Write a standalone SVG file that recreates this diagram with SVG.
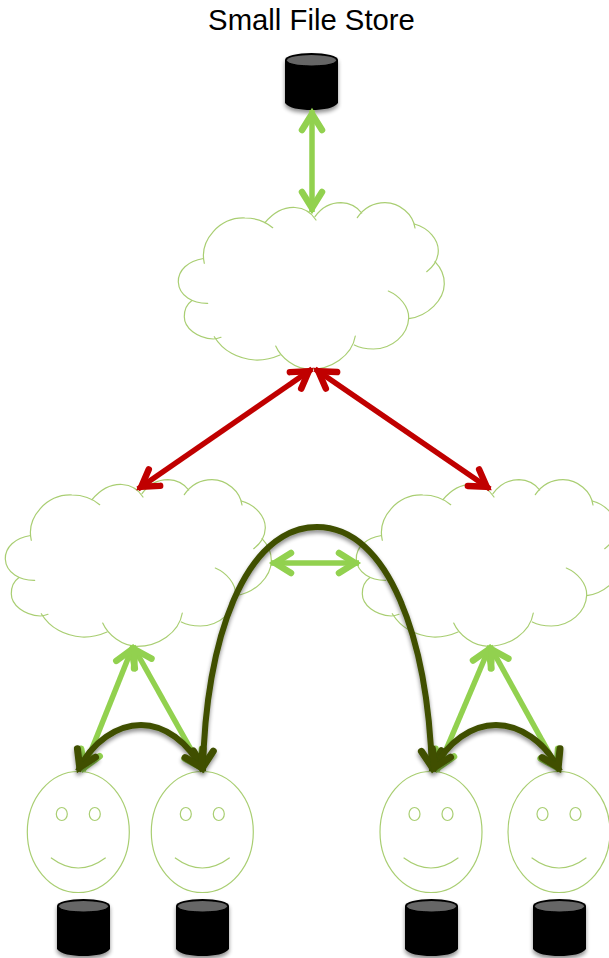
<svg xmlns="http://www.w3.org/2000/svg" width="609" height="958" viewBox="0 0 609 958">
<style>
.outline{fill:none;stroke:#A9CE72;stroke-width:1.2;stroke-linecap:round}
.fillw{fill:#fff;stroke:none}
.conn{fill:none;stroke-linecap:butt}
.lg{stroke:#92D14F;stroke-width:5.500;marker-start:url(#hl);marker-end:url(#hl)}
.rd{stroke:#C00000;stroke-width:5.500;marker-start:url(#hr);marker-end:url(#hr)}
.dg{stroke:#3F5000;stroke-width:6;marker-start:url(#hd);marker-end:url(#hd)}
text{font-family:"Liberation Sans",Arial,sans-serif;font-size:29.300px;fill:#000}
</style>
<defs>
<marker id="hl" markerUnits="userSpaceOnUse" viewBox="-30 -20 40 40" refX="0" refY="0" markerWidth="40" markerHeight="40" orient="auto-start-reverse" overflow="visible"><path d="M-20,-10L-4,0L-20,10" fill="none" stroke="#92D14F" stroke-width="6.500" stroke-linecap="round" stroke-miterlimit="6"/></marker>
<marker id="hr" markerUnits="userSpaceOnUse" viewBox="-30 -20 40 40" refX="0" refY="0" markerWidth="40" markerHeight="40" orient="auto-start-reverse" overflow="visible"><path d="M-20,-10L-4,0L-20,10" fill="none" stroke="#C00000" stroke-width="6.500" stroke-linecap="round" stroke-miterlimit="6"/></marker>
<marker id="hd" markerUnits="userSpaceOnUse" viewBox="-30 -20 40 40" refX="0" refY="0" markerWidth="40" markerHeight="40" orient="auto-start-reverse" overflow="visible"><path d="M-20,-10L-4,0L-20,10" fill="none" stroke="#3F5000" stroke-width="7" stroke-linecap="round" stroke-miterlimit="6"/></marker>
<filter id="sh" x="-20%" y="-20%" width="140%" height="140%"><feGaussianBlur in="SourceAlpha" stdDeviation="2.200"/><feOffset dx="0" dy="3"/><feComponentTransfer><feFuncA type="linear" slope=".45"/></feComponentTransfer><feMerge><feMergeNode/><feMergeNode in="SourceGraphic"/></feMerge></filter>
<g id="cloud">
<path class="fillw" d="M203,258C200,232 222,214 255,219C268,211 298,201 316,219C328,199 352,201 362,213C380,197 410,204 415,228C436,234 444,252 436,262C450,280 442,310 409,318C403,345 372,354 354,345C340,368 295,378 277,352C255,364 225,358 214,337C190,338 175,318 192,300C170,292 172,265 203,258Z"/>
<g class="outline">
<path d="M203.500,258.500C188,261 178,270 178.300,282C179,296 193,303.500 207.700,303.300"/>
<path d="M204.300,263.300C199,240 220,217 245,218C256,218 266,222 272.700,227.700"/>
<path d="M265,222.700C274,212 284,207 295,207.500C304,208 311,212 316,220"/>
<path d="M315,216.700C322,207 331,202.700 341,202.700C350,203 357,207 361.700,213"/>
<path d="M357.300,217.700C364,208 374,202.700 385,202.700C400,203 413,214 415,228"/>
<path d="M414.300,224C429,228 438.500,240 438.300,251C438,260 433,267 426.700,271.700"/>
<path d="M435,261.700C441,268 444.500,275 444.300,284C444,300 428,316 408.700,318.700"/>
<path d="M388.300,291C400,296 409,307 408.700,318C408,335 392,349 373.300,349C366,349 360,348 354.300,345"/>
<path d="M355.300,336C352,356 331,369.300 310,369.300C295,369 281,358 275.700,346"/>
<path d="M280,355C271,359 263,360.300 255,360C238,359 223,351 214.300,336.700"/>
<path d="M221,337.300C218,338.500 216,339 213.300,339C197,338 184.300,328 184.300,316.700C184.300,310 187,304 191.700,300.700"/>
</g>
</g>
<g id="cyl">
<ellipse cx="26.500" cy="7" rx="26.500" ry="7" fill="#000"/>
<path d="M0,7V50C4,55 14,57 26.500,57C39,57 49,55 53,50V7Z" fill="#000"/>
<ellipse cx="26.500" cy="7.300" rx="24.500" ry="5.200" fill="#666"/>
</g>
<g id="face">
<ellipse cx="0" cy="0" rx="51" ry="60.500" fill="#fff" class="outline"/>
<ellipse cx="-16.500" cy="-18" rx="5.500" ry="6.500" fill="none" class="outline"/>
<ellipse cx="16.500" cy="-18" rx="5.500" ry="6.500" fill="none" class="outline"/>
<path d="M-27,26Q0,46 27,26" class="outline"/>
</g>
</defs>
<text id="title" x="311.500" y="30" text-anchor="middle">Small File Store</text>
<g id="clouds">
<use id="cloud-top" href="#cloud"/>
<use id="cloud-left" href="#cloud" x="-173" y="277"/>
<use id="cloud-right" href="#cloud" x="178" y="277"/>
</g>
<g id="faces">
<use id="face-1" href="#face" x="78.300" y="832"/>
<use id="face-2" href="#face" x="202.300" y="832"/>
<use id="face-3" href="#face" x="431" y="832"/>
<use id="face-4" href="#face" x="559" y="832"/>
</g>
<g id="stores" filter="url(#sh)">
<use id="store-top" href="#cyl" x="285" y="53"/>
<use id="store-1" href="#cyl" x="57" y="899"/>
<use id="store-2" href="#cyl" x="176" y="899"/>
<use id="store-3" href="#cyl" x="405" y="899"/>
<use id="store-4" href="#cyl" x="533" y="899"/>
</g>
<g id="connectors">
<g class="conn">
<path class="lg" d="M312,110V212"/>
<path class="lg" d="M271,563H359"/>
<path class="lg" d="M133,646L83,771"/>
<path class="lg" d="M133,646L203,771"/>
<path class="lg" d="M490,646L437,771"/>
<path class="lg" d="M490,646L559,771"/>
<path class="rd" d="M312,369L138,489"/>
<path class="rd" d="M315,369L490,489"/>
</g>
<g class="conn" filter="url(#sh)">
<path class="dg" d="M203,771C205,640 245,527 317,527C389,527 428,640 432,771"/>
<path class="dg" d="M78,771C92,741 118,725 141,725C164,725 188,741 203,771"/>
<path class="dg" d="M433,771C447,741 473,725 496,725C519,725 545,741 560,771"/>
</g>
</g>
</svg>
